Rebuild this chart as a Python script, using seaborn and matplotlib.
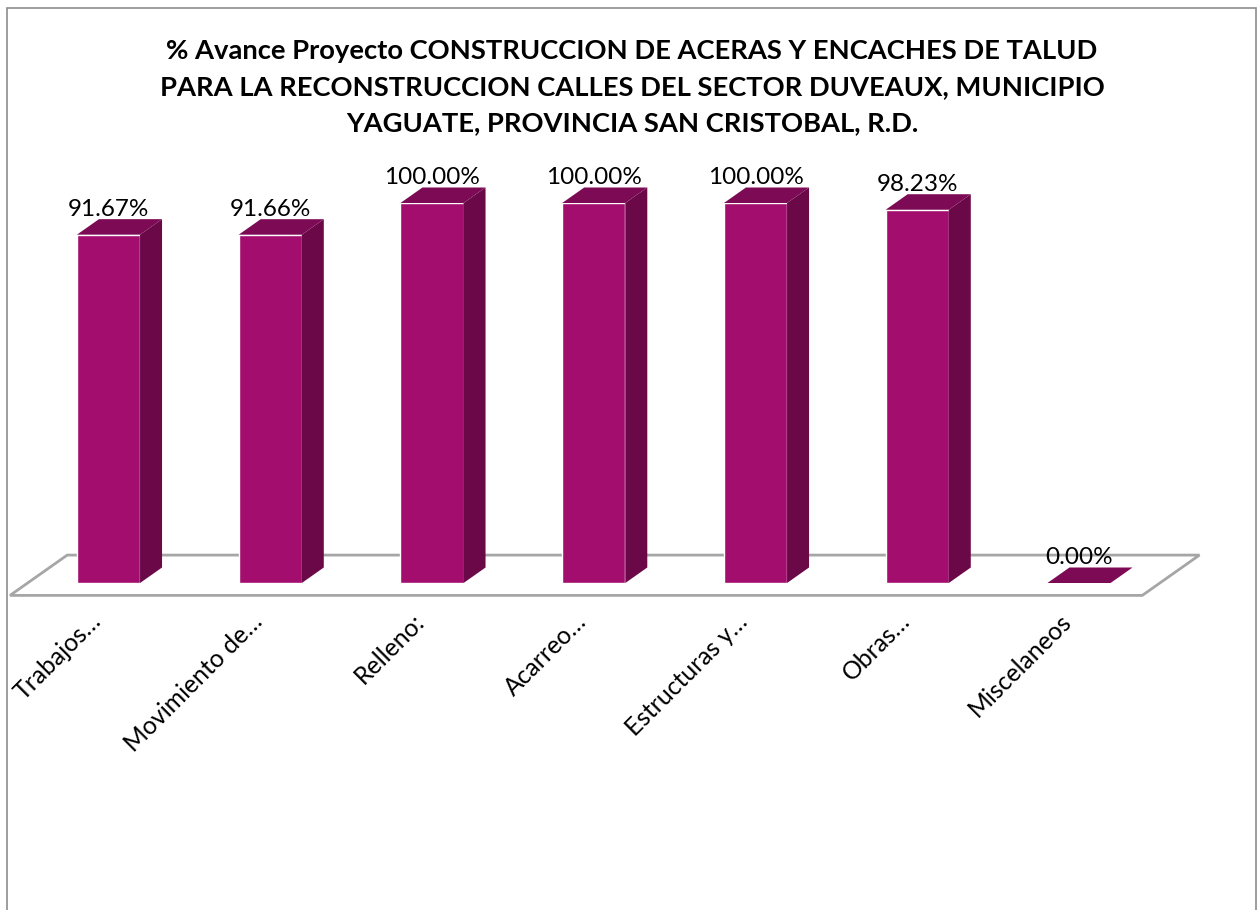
"""
% Avance Proyecto - barras con efecto 3D (estilo Excel) usando seaborn.
"""

import matplotlib
matplotlib.use("Agg")
import matplotlib.pyplot as plt
from matplotlib.patches import Polygon, Rectangle
from matplotlib.transforms import ScaledTranslation
import seaborn as sns

# --- datos ---
categorias = ["Trabajos…", "Movimiento de…", "Relleno:", "Acarreo…",
              "Estructuras y…", "Obras…", "Miscelaneos"]
avance = [91.67, 91.66, 100.00, 100.00, 100.00, 98.23, 0.00]
titulo = ("% Avance Proyecto CONSTRUCCION DE ACERAS Y ENCACHES DE TALUD\n"
          "PARA LA RECONSTRUCCION CALLES DEL SECTOR DUVEAUX, MUNICIPIO\n"
          "YAGUATE, PROVINCIA SAN CRISTOBAL, R.D.")

# --- estilo ---
COR_FRENTE = "#A30D6E"
COR_LADO = "#6A0848"
COR_TOPO = "#7D0A55"
COR_PISO = "#A6A6A6"
PROF_X, PROF_Y = 0.136, 4.08   # profundidade 3D em unidades de dados
ESCALA_PISO = 2.6

sns.set_theme(style="white")
plt.rcParams["font.family"] = ["Lato", "DejaVu Sans"]

W, H = 1259, 910
fig = plt.figure(figsize=(W / 100, H / 100), dpi=100)

# eixos posicionados em pixels
xlim = (-0.65, 6.8)
ylim = (-5, 112)
px_x0, px_step = 108.5, 161.75
px_y0, px_unit = 583, 3.8
left = px_x0 + xlim[0] * px_step
right = px_x0 + xlim[1] * px_step
bottom = px_y0 - ylim[0] * px_unit
top = px_y0 - ylim[1] * px_unit
ax = fig.add_axes([left / W, (H - bottom) / H, (right - left) / W, (bottom - top) / H])

sns.barplot(x=categorias, y=avance, color=COR_FRENTE, saturation=1,
            width=0.39, ax=ax, zorder=3)
ax.set_xlim(*xlim)
ax.set_ylim(*ylim)

# faces laterais e superiores
for bar, v in zip(ax.patches, avance):
    x0 = bar.get_x()
    x1 = x0 + bar.get_width()
    h = bar.get_height()
    lado = Polygon([(x1, 0), (x1 + PROF_X, PROF_Y), (x1 + PROF_X, h + PROF_Y), (x1, h)],
                   closed=True, fc=COR_LADO, ec="none", zorder=3)
    topo = Polygon([(x0, h), (x0 + PROF_X, h + PROF_Y), (x1 + PROF_X, h + PROF_Y), (x1, h)],
                   closed=True, fc=COR_TOPO, ec="none", zorder=3)
    ax.add_patch(lado)
    ax.add_patch(topo)
    ax.text(x0 + bar.get_width() / 2, h + PROF_Y + 0.8, f"{v:.2f}%",
            ha="center", va="baseline", fontsize=17.5, color="black", zorder=5)

# piso
n = len(categorias)
meio_x, meio_y = PROF_X / 2, PROF_Y / 2
fx, fy = PROF_X * ESCALA_PISO / 2, PROF_Y * ESCALA_PISO / 2
piso = Polygon([(-0.5 + meio_x - fx, meio_y - fy), (n - 0.5 + meio_x - fx, meio_y - fy),
                (n - 0.5 + meio_x + fx, meio_y + fy), (-0.5 + meio_x + fx, meio_y + fy)],
               closed=True, fill=False, ec=COR_PISO, lw=2, zorder=1, clip_on=False)
ax.add_patch(piso)

ax.set_xticks(range(n))
ax.set_xticklabels(categorias, rotation=45, ha="right", va="baseline",
                   rotation_mode="anchor", fontsize=17.8, color="black")
ax.tick_params(axis="x", length=0, pad=15)
desloc = ScaledTranslation(-6 / 100, 0, fig.dpi_scale_trans)
for lbl in ax.get_xticklabels():
    lbl.set_transform(lbl.get_transform() + desloc)
ax.set_yticks([])
ax.set_xlabel("")
ax.set_ylabel("")
for s in ax.spines.values():
    s.set_visible(False)
ax.patch.set_alpha(0)

fig.text(632 / W, 1 - 87 / H, titulo, ha="center", va="center", fontsize=19.7,
         fontweight="bold", linespacing=1.62, color="black")

# moldura do gráfico
fig.add_artist(Rectangle((7 / W, -0.1), (1256 - 7) / W, 1 - 8 / H + 0.1,
                         transform=fig.transFigure, fill=False, ec="#8C8C8C", lw=1.2))

fig.savefig("out.png", dpi=100)
